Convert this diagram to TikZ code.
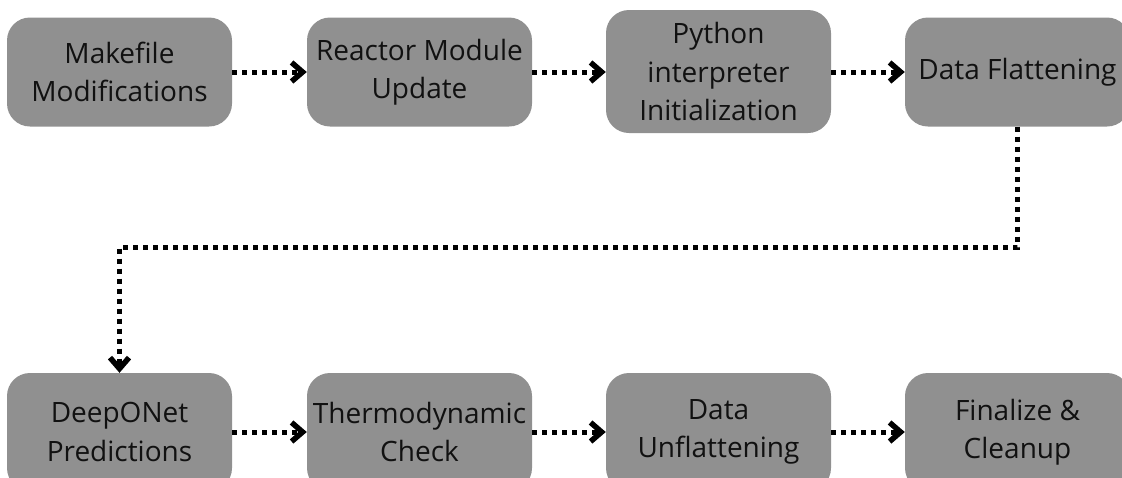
\documentclass[tikz,border=0pt]{standalone}
\usepackage{fontspec}
\setmainfont{Open Sans}
\usetikzlibrary{arrows.meta}
\definecolor{boxgray}{RGB}{144,144,144}
\definecolor{txt}{RGB}{17,17,17}
\tikzset{
  stepbox/.style={fill=boxgray, rounded corners=23pt, minimum width=225pt, minimum height=109pt,
    inner sep=0pt, align=center, text=txt, font=\fontsize{28}{38.5}\selectfont},
  lowbox/.style={stepbox, minimum height=118pt},
  conn/.style={line width=5pt, dash pattern=on 5pt off 5pt, black,
    -{Straight Barb[length=11pt,width=19pt,line width=5.5pt]}}
}
\begin{document}
\begin{tikzpicture}[x=1pt,y=-1pt]
\useasboundingbox (0,0) rectangle (1122,477);
\clip (0,0) rectangle (1122,477);
\node[stepbox] (n1) at (119.5,72) {Makefile\\Modifications};
\node[stepbox] (n2) at (419.5,72) {Reactor Module\\Update};
\node[stepbox, minimum height=123pt] (n3) at (718.5,71.5) {Python\\interpreter\\Initialization};
\node[stepbox] (n4) at (1017.5,72) {Data Flattening};
\node[lowbox] (n5) at (119.5,432) {DeepONet\\Predictions};
\node[lowbox] (n6) at (419.5,432) {Thermodynamic\\Check};
\node[lowbox] (n7) at (718.5,432) {Data\\Unflattening};
\node[lowbox] (n8) at (1017.5,432) {Finalize \&\\Cleanup};
\coordinate (mid) at (119.5,247);
\draw[conn] (n1.east) -- (n2.west);
\draw[conn] (n2.east) -- (n3.west |- n2.east);
\draw[conn] (n3.east |- n4.west) -- (n4.west);
\draw[conn] (n4.south) |- (mid) -- (n5.north);
\draw[conn] (n5.east) -- (n6.west);
\draw[conn] (n6.east) -- (n7.west);
\draw[conn] (n7.east) -- (n8.west);
\end{tikzpicture}
\end{document}
